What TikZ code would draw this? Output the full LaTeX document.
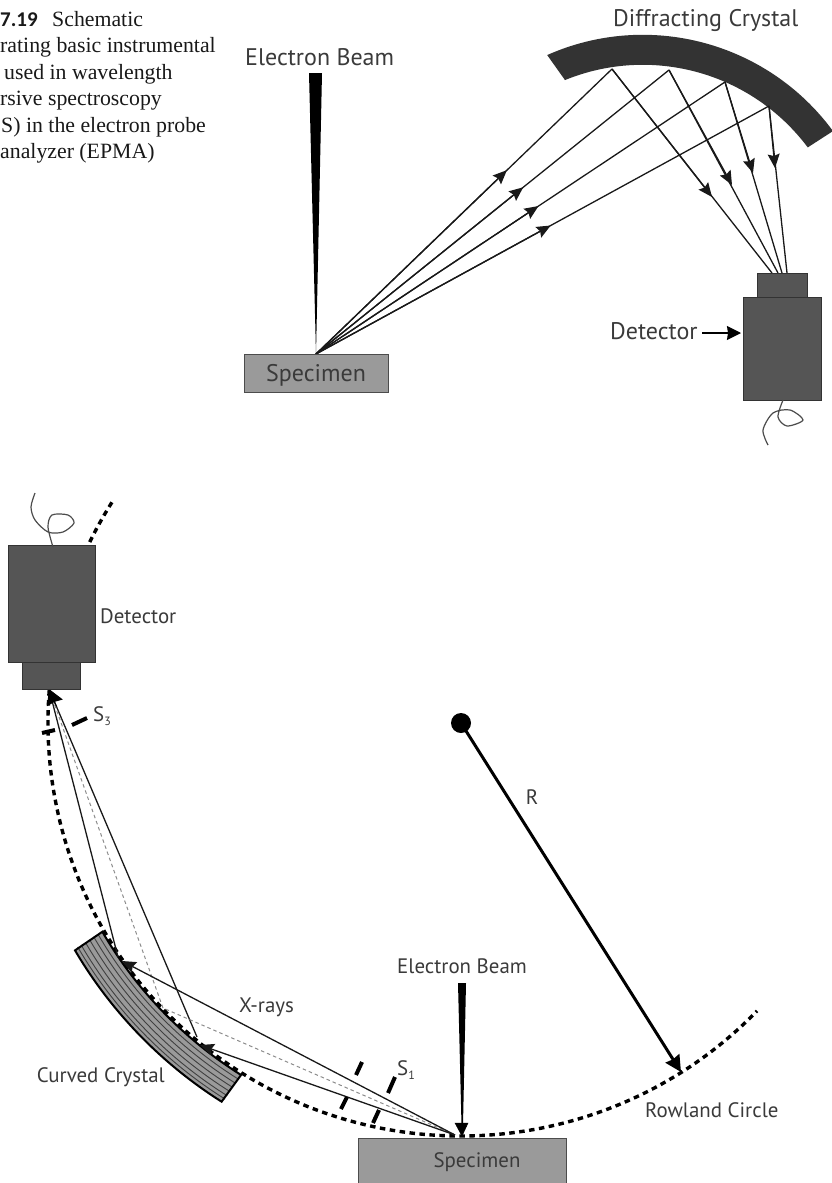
\documentclass[tikz,border=0pt]{standalone}
\usepackage{fontspec}
\setmainfont{Liberation Serif}
\newfontfamily\labelfont{PT Sans}
\newfontfamily\capsans{Carlito}
\usetikzlibrary{arrows.meta,calc}
\definecolor{darkcry}{HTML}{333333}
\definecolor{detfill}{HTML}{555555}
\definecolor{specfill}{HTML}{9A9A9A}
\definecolor{labelc}{HTML}{3A3A3A}
\tikzset{
  caption/.style={anchor=base west,inner sep=0pt,font=\fontsize{21.8}{24}\selectfont,text=black!90},
  biglabel/.style={anchor=base west,inner sep=0pt,font=\labelfont\fontsize{24}{26}\selectfont,text=labelc},
  smalllabel/.style={anchor=base west,inner sep=0pt,font=\labelfont\fontsize{20.9}{24}\selectfont,text=labelc},
  ray/.style={draw=black!90,line width=1.3pt},
  rayhead/.style={draw=black!90,line width=1.3pt,-{Stealth[length=14pt,width=12pt,inset=2pt]}},
  detbody/.style={fill=detfill,draw=darkcry,line width=1pt},
  specbody/.style={fill=specfill,draw=black!70,line width=1pt},
  wire/.style={draw=black!70,line width=1.2pt},
  rowland/.style={draw=black,line width=3.4pt,dash pattern=on 5.5pt off 4.5pt},
  slit/.style={draw=black,line width=4pt},
  center ray/.style={draw=black!45,line width=1pt,dash pattern=on 3.5pt off 3pt},
  crystalline/.style={draw=black!75,line width=0.9pt},
}
\begin{document}
\begin{tikzpicture}[x=1pt,y=-1pt]
\useasboundingbox (0,0) rectangle (832,1183);
\clip (0,0) rectangle (832,1183);

% ---------- caption
\node[caption,font=\capsans\bfseries\fontsize{21}{24}\selectfont] (cap0) at (0,26) {7.19};
\node[caption] (cap1) at (52,26) {Schematic};
\node[caption] (cap2) at (0,52.5) {rating basic instrumental};
\node[caption] (cap3) at (4,79) {used in wavelength};
\node[caption] (cap4) at (0,105.5) {rsive spectroscopy};
\node[caption] (cap5) at (1,132) {S) in the electron probe};
\node[caption] (cap6) at (0,158.5) {analyzer (EPMA)};

% ---------- upper diagram
\node[biglabel] (ebeamA) at (245,65) {Electron Beam};
\node[biglabel] (dcry) at (613,27) {Diffracting Crystal};
\fill[black] (309,73) -- (322,73) -- (316,354) -- cycle;

\coordinate (tc) at (642.8,270.8);
\fill[darkcry] (tc) ++(247.8:206) arc[start angle=247.8,end angle=323.2,radius=206]
  -- ($(tc)+(323.7:236)$) arc[start angle=323.7,end angle=246.1,radius=236] -- cycle;

\coordinate (o) at (316,354);
\coordinate (p1) at (612,69);
\coordinate (p2) at (669,70);
\coordinate (p3) at (725,82);
\coordinate (p4) at (769,106);
\coordinate (q1) at (772,273);
\coordinate (q2) at (778,273);
\coordinate (q3) at (782,273);
\coordinate (q4) at (787,273);
\coordinate (a1) at ($(o)!0.645!(p1)$);
\coordinate (a2) at ($(o)!0.587!(p2)$);
\coordinate (a3) at ($(o)!0.544!(p3)$);
\coordinate (a4) at ($(o)!0.518!(p4)$);
\coordinate (b1) at (712,197);
\coordinate (b2) at (732,185);
\coordinate (b3) at (753,173);
\coordinate (b4) at (775,168);

\foreach \i in {1,2,3,4}{
  \draw[ray] (o) -- (p\i);
  \draw[ray] (p\i) -- (q\i);
  \draw[rayhead] (o) -- (a\i);
  \draw[rayhead] (p\i) -- (b\i);
}

\node[draw=black!70,fill=specfill,line width=1pt,minimum width=144pt,minimum height=38pt,inner sep=0pt,anchor=north west] (specA) at (244,354) {};
\node[biglabel,anchor=base] (specAt) at (316,381) {Specimen};

\node[detbody,minimum width=50pt,minimum height=24pt,inner sep=0pt,anchor=north west] (detAs) at (757,273) {};
\node[detbody,minimum width=78pt,minimum height=103pt,inner sep=0pt,anchor=north west] (detA) at (743,297) {};
\node[biglabel] (detAt) at (610,339) {Detector};
\draw[line width=1.6pt,black,-{Stealth[length=14pt,width=14pt,inset=1pt]}] (702,333) -- (741,333);
\draw[wire] plot[smooth] coordinates {(783,400) (778,417) (787,426) (803,420) (790,410) (773,413) (763,430) (768,445)};

% ---------- lower diagram
\coordinate (rc) at (461,723);
\coordinate (D) at (49,689);
\coordinate (O) at (455,1135);
\coordinate (A) at (122,961);
\coordinate (B) at (200,1045);
\coordinate (C) at (163,1008);
\coordinate (A2) at (118,957);
\coordinate (B2) at (197,1037);

% crystal
\fill[specfill] (rc) ++(149.8:415) arc[start angle=149.8,end angle=122,radius=415]
  -- ($(rc)+(122.3:448)$) arc[start angle=122.3,end angle=149.5,radius=448] -- cycle;
\foreach \r in {420,425,430,435,440,444}{
  \draw[crystalline] (rc) ++(149.7:\r) arc[start angle=149.7,end angle=122.1,radius=\r];
}
\draw[black,line width=2pt] (rc) ++(149.8:415) arc[start angle=149.8,end angle=122,radius=415]
  -- ($(rc)+(122.3:448)$) arc[start angle=122.3,end angle=149.5,radius=448] -- cycle;

% Rowland circle
\draw[rowland] (rc) ++(212.3:413) arc[start angle=212.3,end angle=44.2,radius=413];

% X-rays
\draw[ray] (A2) -- (D);
\draw[ray] (B2) -- (D);
\draw[center ray] (O) -- (C) -- (D);
\draw[rayhead] (O) -- (A);
\draw[rayhead] (O) -- (B);
\draw[black,line width=1pt,-{Stealth[length=15pt,width=17pt,inset=1pt]}] ($(D)!0.05!(B2)$) -- (D);

% slits
\draw[slit] (362,1062) -- (356,1075);
\draw[slit] (347,1097) -- (341,1109);
\draw[slit] (395,1077) -- (388,1093);
\draw[slit] (379,1110) -- (373,1123);
\draw[slit] (72,725) -- (87,718);
\draw[slit] (42,733) -- (55,730);

% detector
\node[detbody,minimum width=87pt,minimum height=117pt,inner sep=0pt,anchor=north west] (detB) at (8,545) {};
\node[detbody,minimum width=58pt,minimum height=27pt,inner sep=0pt,anchor=north west] (detBs) at (22,662) {};
\draw[wire] plot[smooth] coordinates {(53,547) (48,527) (52,515) (68,515) (74,523) (63,532) (48,532) (35,520) (31,507) (35,493)};
\node[smalllabel] (detBt) at (100,623) {Detector};

% R
\fill[black] (rc) circle[radius=10];
\coordinate (Rtip) at (681,1072);
\draw[black,line width=3pt,-{Stealth[length=16pt,width=16pt,inset=1pt]}] (rc) -- (Rtip);
\node[smalllabel,anchor=base] (Rt) at (532,804) {R};

% electron beam
\fill[black] (458,983) -- (466,983) -- (463,1125) -- (461.5,1125) -- cycle;
\draw[black,line width=0.5pt,fill=black] (455,1123) -- (468,1123) -- (462,1136) -- cycle;

% specimen
\node[specbody,minimum width=208pt,minimum height=50pt,inner sep=0pt,anchor=north west] (specB) at (358,1138) {};
\node[smalllabel,anchor=base] (specBt) at (477,1167) {Specimen};

% labels
\node[smalllabel] (ebeamB) at (397,973) {Electron Beam};
\node[smalllabel] (xr) at (239,1012) {X-rays};
\node[smalllabel,anchor=base east] (cc) at (165,1082) {Curved Crystal};
\node[smalllabel] (rl) at (645,1117) {Rowland Circle};
\node[smalllabel] (s3) at (93,721) {S\raisebox{-4pt}{\fontsize{12}{12}\selectfont 3}};
\node[smalllabel] (s1) at (397,1075) {S\raisebox{-4pt}{\fontsize{12}{12}\selectfont 1}};
\end{tikzpicture}
\end{document}
